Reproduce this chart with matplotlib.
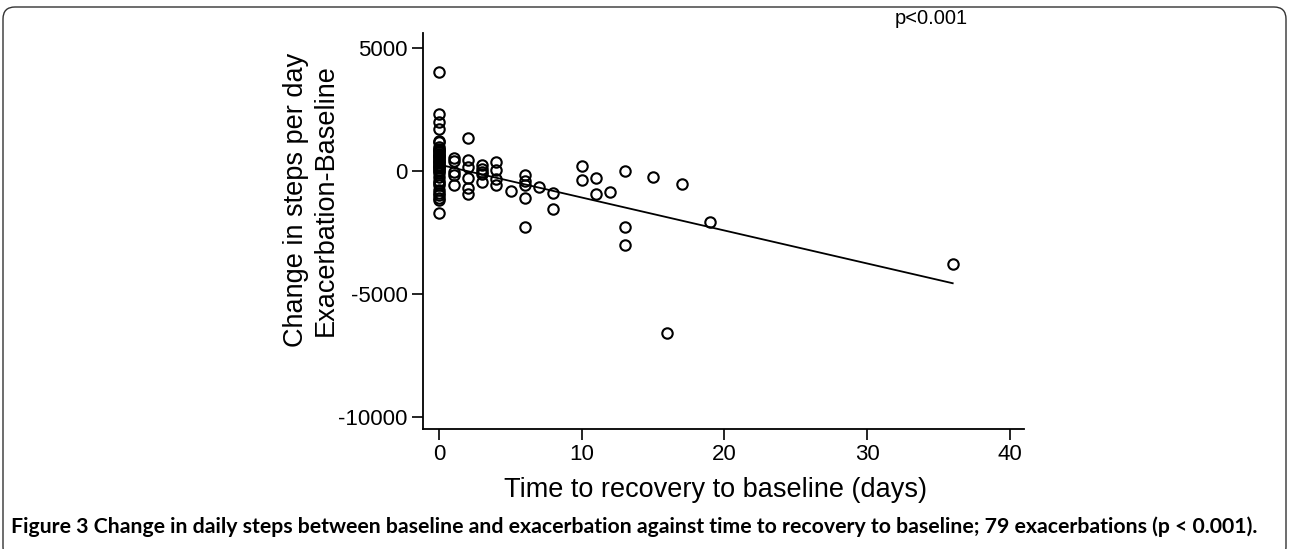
import numpy as np
import matplotlib
matplotlib.use('Agg')
import matplotlib.pyplot as plt
from matplotlib.patches import FancyBboxPatch

plt.rcParams['font.family'] = ['Liberation Sans', 'DejaVu Sans']
plt.rcParams['axes.unicode_minus'] = False

# days to recovery (x) and change in steps per day (y)
days_0 = [0] * 37
steps_0 = [4000, 2300, 2000, 1700, 1200, 1150, 950, 900, 850, 800, 750, 700, 650,
           600, 550, 500, 450, 400, 350, 300, 250, 200, 150, 100, 50, 0, -100,
           -250, -400, -500, -600, -800, -900, -1000, -1100, -1200, -1700]
days_rest = [1, 1, 1, 1, 1,
             2, 2, 2, 2, 2, 2,
             3, 3, 3, 3, 3,
             4, 4, 4, 4,
             5,
             6, 6, 6, 6, 6,
             7,
             8, 8,
             10, 10,
             11, 11,
             12,
             13, 13, 13,
             15, 16, 17, 19, 36]
steps_rest = [500, 400, -50, -180, -560,
              1350, 450, 150, -290, -720, -950,
              220, 90, -50, -120, -460,
              350, 20, -320, -590,
              -830,
              -160, -430, -590, -1100, -2280,
              -660,
              -900, -1540,
              200, -390,
              -290, -950,
              -870,
              -20, -2280, -3030,
              -250, -6580, -520, -2080, -3800]

# fitted regression line as drawn
fit_intercept = 250
fit_slope = -134

x_ticks = [0, 10, 20, 30, 40]
y_ticks = [5000, 0, -5000, -10000]

days = np.array(days_0 + days_rest)
steps = np.array(steps_0 + steps_rest)

fig = plt.figure(figsize=(12.89, 5.49), dpi=100)
ax = fig.add_axes([423 / 1289, 1 - 429 / 549, (1024 - 423) / 1289, (429 - 33) / 549])

ax.plot(days, steps, 'o', mfc='none', mec='black', ms=7.5, mew=1.5, clip_on=False)
xl = np.array([days.min(), days.max()])
ax.plot(xl, fit_intercept + fit_slope * xl, color='black', lw=1.3)

ax.set_xlim(-1.14, 41.0)
ax.set_ylim(-10500, 5600)
ax.set_xticks(x_ticks)
ax.set_yticks(y_ticks)
ax.tick_params(length=8, width=1.2, labelsize=16, pad=3)
for s in ['top', 'right']:
    ax.spines[s].set_visible(False)
for s in ['left', 'bottom']:
    ax.spines[s].set_linewidth(1.3)

ax.set_xlabel('Time to recovery to baseline (days)', fontsize=19.5)
ax.set_ylabel('Change in steps per day\nExacerbation-Baseline', fontsize=19.5,
              linespacing=1.2)
ax.xaxis.set_label_coords(0.486, -0.122)
ax.yaxis.set_label_coords(-0.14, 0.578)

fig.text(895 / 1289, 1 - 18 / 549, 'p<0.001', fontsize=14.5, va='center', ha='left')

cap = fig.text(11 / 1289, 1 - 527 / 549,
               'Figure 3 Change in daily steps between baseline and exacerbation against '
               'time to recovery to baseline; 79 exacerbations (p < 0.001).',
               fontsize=14, fontweight='bold', va='center', ha='left',
               family=['Liberation Sans Narrow', 'Lato', 'DejaVu Sans'])

# fit caption width to the reference (~1257 px)
fig.canvas.draw()
w = cap.get_window_extent().width
cap.set_fontsize(14 * 1257 / w)

frame = FancyBboxPatch((0.03, -0.1), 12.83, 5.52, boxstyle='round,pad=0,rounding_size=0.12',
                       transform=fig.dpi_scale_trans, fill=False, ec='#333333', lw=1.0,
                       clip_on=False)
fig.patches.append(frame)

fig.savefig('out.png', dpi=100)
